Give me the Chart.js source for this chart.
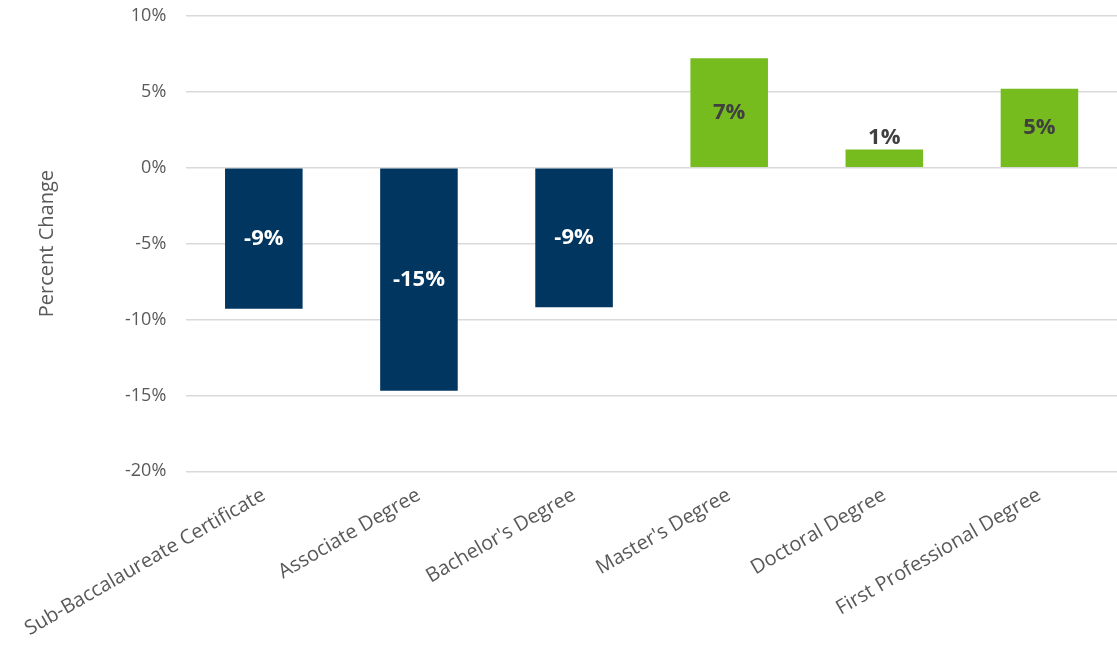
<!DOCTYPE html>
<html>
<head>
<meta charset="utf-8">
<script src="https://cdn.jsdelivr.net/npm/chart.js@4"></script>
<style>
  html, body { margin: 0; padding: 0; background: #fff; overflow: hidden; }
  #frame { width: 1117px; height: 645px; position: relative; overflow: hidden; }
  #wrap { width: 1117px; height: 660px; position: absolute; left: 0; top: -15px; }
</style>
</head>
<body>
<div id="frame"><div id="wrap"><canvas id="degreeChart"></canvas></div></div>
<script>
// Chart data
const categories = [
  'Sub-Baccalaureate Certificate',
  'Associate Degree',
  "Bachelor's Degree",
  "Master's Degree",
  'Doctoral Degree',
  'First Professional Degree'
];
const percentChange = [-9.3, -14.7, -9.2, 7.2, 1.2, 5.2];
const yTicks = [10, 5, 0, -5, -10, -15, -20];

const NAVY = '#003660';
const GREEN = '#77BC1F';

// Simple data label drawing, centred in bar or just above it when bar is short
const barLabels = {
  id: 'barLabels',
  afterDatasetsDraw(chart) {
    const ctx = chart.ctx;
    const meta = chart.getDatasetMeta(0);
    ctx.save();
    ctx.font = 'bold 22px "Open Sans", sans-serif';
    ctx.textAlign = 'center';
    ctx.textBaseline = 'middle';
    meta.data.forEach((bar, i) => {
      const v = percentChange[i];
      const text = Math.round(v) + '%';
      const h = Math.abs(bar.base - bar.y);
      if (h < 30) {
        ctx.fillStyle = '#404040';
        ctx.fillText(text, bar.x, bar.y - 12);
      } else {
        ctx.fillStyle = v < 0 ? '#ffffff' : '#404040';
        ctx.fillText(text, bar.x, (bar.y + bar.base) / 2);
      }
    });
    ctx.restore();
  }
};

new Chart(document.getElementById('degreeChart'), {
  type: 'bar',
  data: {
    labels: categories,
    datasets: [{
      data: percentChange,
      backgroundColor: percentChange.map(v => v < 0 ? NAVY : GREEN),
      barPercentage: 1,
      categoryPercentage: 0.5
    }]
  },
  options: {
    responsive: true,
    maintainAspectRatio: false,
    animation: false,
    layout: { padding: { top: 0, right: 0, left: 31, bottom: 0 } },
    plugins: {
      legend: { display: false },
      tooltip: { enabled: false }
    },
    scales: {
      y: {
        min: -20,
        max: 10,
        afterBuildTicks(axis) {
          axis.ticks = yTicks.map(v => ({ value: v }));
        },
        border: { display: false },
        grid: { color: '#d9d9d9', lineWidth: 1.5, drawTicks: false },
        ticks: {
          padding: 20,
          color: '#595959',
          font: { family: '"Open Sans", sans-serif', size: 18 },
          callback: v => v + '%'
        },
        title: {
          display: true,
          text: 'Percent Change',
          color: '#595959',
          font: { family: '"Open Sans", sans-serif', size: 20 },
          padding: { bottom: 46 }
        }
      },
      x: {
        border: { display: false },
        grid: { display: false },
        ticks: {
          minRotation: 30,
          maxRotation: 30,
          color: '#595959',
          font: { family: '"Open Sans", sans-serif', size: 20 },
          padding: 4
        }
      }
    }
  },
  plugins: [barLabels]
});
</script>
</body>
</html>
